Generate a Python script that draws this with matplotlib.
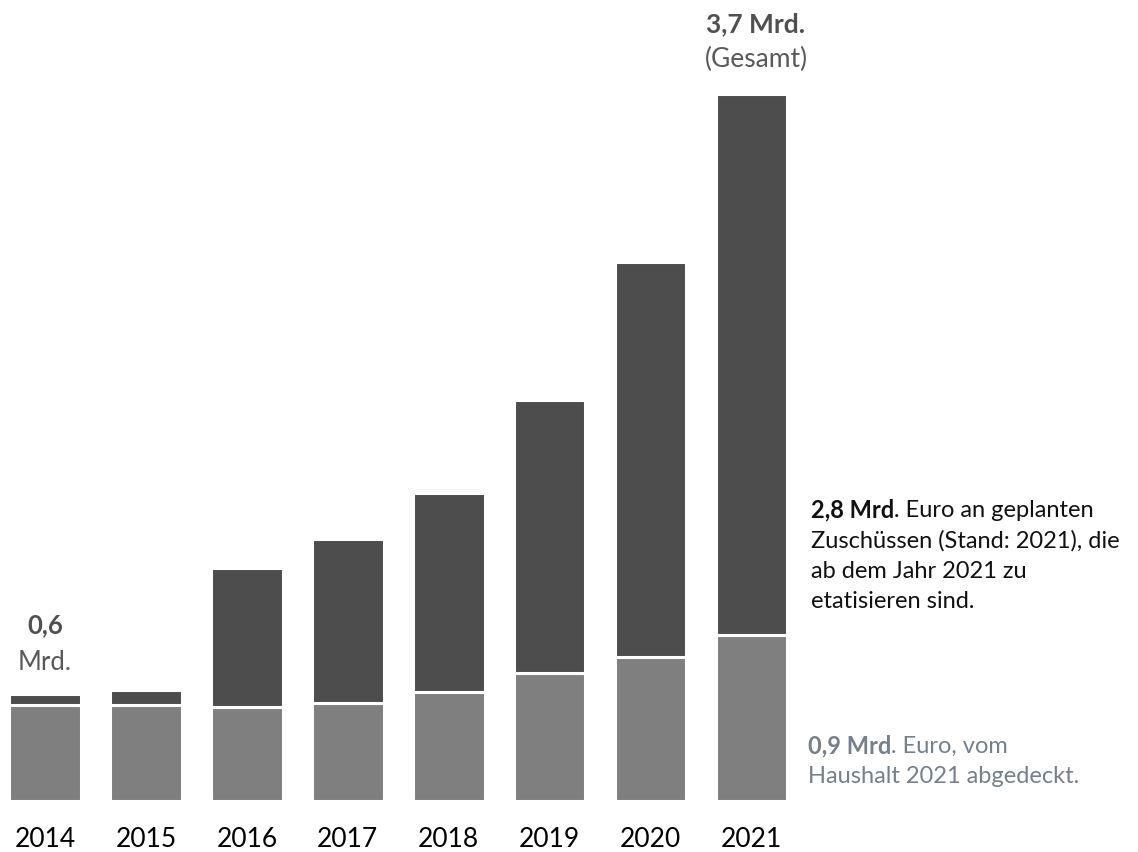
import matplotlib
matplotlib.use("Agg")
import matplotlib.pyplot as plt

# Mrd. Euro per year
years = ["2014", "2015", "2016", "2017", "2018", "2019", "2020", "2021"]
covered = [0.50, 0.50, 0.49, 0.51, 0.57, 0.67, 0.75, 0.87]   # vom Haushalt abgedeckt
planned = [0.06, 0.08, 0.73, 0.86, 1.04, 1.43, 2.07, 2.83]   # geplante Zuschüsse

plt.rcParams["font.family"] = ["Lato", "DejaVu Sans"]

W, H, DPI = 1138, 853, 100
BASE = 801.7      # baseline in pixels from top
UNIT = 191.0      # pixels per Mrd.
STEP = 100.93     # pixels between bars
X0 = 45.0         # centre of first bar in pixels

fig = plt.figure(figsize=(W / DPI, H / DPI), dpi=DPI)
ax = fig.add_axes([0, (H - BASE) / H, 1, BASE / H])
ax.set_xlim(-X0 / STEP, (W - X0) / STEP)
ax.set_ylim(0, BASE / UNIT)
ax.axis("off")

x = list(range(len(years)))
ax.bar(x, covered, width=0.71, color="#7f7f7f", edgecolor="white", linewidth=2.2)
ax.bar(x, planned, bottom=covered, width=0.71, color="#4d4d4d",
       edgecolor="white", linewidth=2.2)

# year labels
for i, y in enumerate(years):
    ax.text(i, (BASE - 847) / UNIT, y, ha="center", va="baseline",
            fontsize=19, color="black")


def ftext(xp, yp, s, **kw):
    return fig.text(xp / W, 1 - yp / H, s, va="baseline", **kw)


# first and last bar annotations
ftext(45, 633, "0,6", ha="center", fontsize=18.5, fontweight="bold", color="#505050")
ftext(45, 670, "Mrd.", ha="center", fontsize=18.5, color="#595959")
ftext(756, 32, "3,7 Mrd.", ha="center", fontsize=19, fontweight="bold", color="#505050")
ftext(756, 67, "(Gesamt)", ha="center", fontsize=19, color="#595959")

renderer = fig.canvas.get_renderer()


def mixed(xp, yp, bold, rest, color, size):
    t = ftext(xp, yp, bold, fontsize=size, fontweight="bold", color=color)
    bb = t.get_window_extent(renderer)
    fig.text(bb.x1 / W, 1 - yp / H, rest, va="baseline", fontsize=size, color=color)


size = 17
black = "#111111"
mixed(811, 517, "2,8 Mrd", ". Euro an geplanten", black, size)
ftext(811, 547.5, "Zuschüssen (Stand: 2021), die", fontsize=size, color=black)
ftext(811, 578, "ab dem Jahr 2021 zu", fontsize=size, color=black)
ftext(811, 608.5, "etatisieren sind.", fontsize=size, color=black)

blue = "#75808a"
mixed(808, 753, "0,9 Mrd", ". Euro, vom", blue, size)
ftext(808, 783, "Haushalt 2021 abgedeckt.", fontsize=size, color=blue)

fig.savefig("out.png", dpi=DPI)
